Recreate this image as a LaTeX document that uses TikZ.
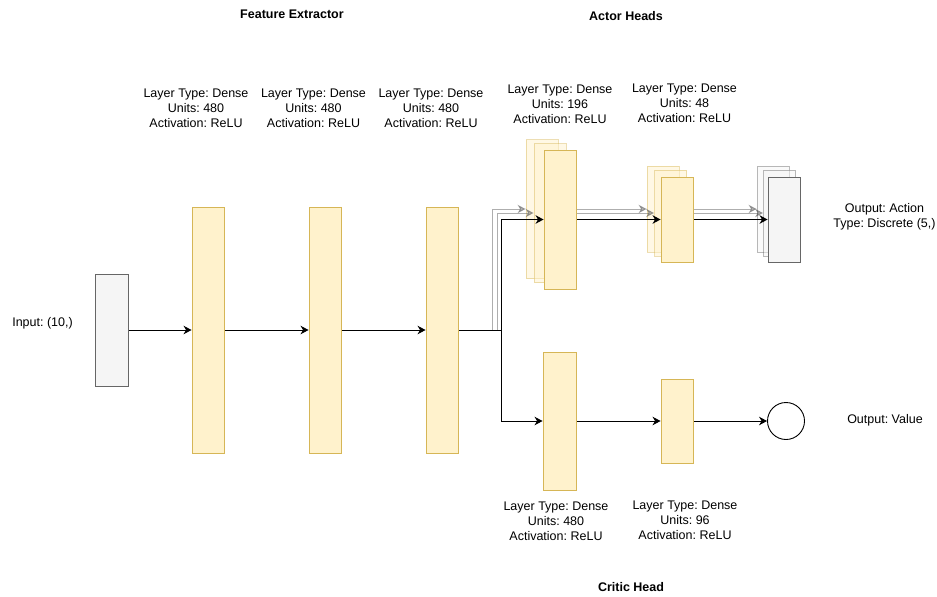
\documentclass[tikz,border=0pt]{standalone}
\usepackage{fontspec}
\setmainfont{Liberation Sans}
\usetikzlibrary{arrows.meta}
\frenchspacing
\pgfdeclarelayer{stack}
\pgfdeclarelayer{wires}
\pgfsetlayers{stack,wires,main}
\definecolor{layerfill}{HTML}{FFF2CC}
\definecolor{layerline}{HTML}{D6B656}
\definecolor{iofill}{HTML}{F5F5F5}
\definecolor{ioline}{HTML}{666666}
\tikzset{
  lyr/.style={draw=layerline, fill=layerfill, line width=0.9pt, inner sep=0pt,
    minimum width=32pt},
  lyrback/.style={lyr, draw opacity=0.45, fill opacity=0.5},
  iobox/.style={draw=ioline, fill=iofill, line width=0.9pt, inner sep=0pt,
    minimum width=32pt},
  ioback/.style={iobox, draw opacity=0.45, fill opacity=0.5},
  tip/.style={-{Stealth[length=8pt,width=8.5pt,inset=2.5pt]}},
  wire/.style={line width=0.9pt, draw=black},
  ghost/.style={line width=0.9pt, draw=black!70, draw opacity=0.45, fill opacity=0.45},
  lbl/.style={align=center, inner sep=0pt, font=\fontsize{12.5}{15}\selectfont},
  ttl/.style={inner sep=0pt, font=\fontsize{12.5}{15}\selectfont\bfseries},
}
\begin{document}
\begin{tikzpicture}[x=1pt,y=-1pt]
\useasboundingbox (0,0) rectangle (937,597);

% rear copies of the stacked actor layers and action output
\begin{pgfonlayer}{stack}
  \node[lyrback, minimum height=139pt] (a1b) at (542,209) {};
  \node[lyrback, minimum height=139pt] (a1m) at (550,213) {};
  \node[lyrback, minimum height=86pt] (a2b) at (663,209) {};
  \node[lyrback, minimum height=86pt] (a2m) at (670.5,213) {};
  \node[ioback, minimum height=86pt] (ob) at (773,209) {};
  \node[ioback, minimum height=86pt] (om) at (779.5,213) {};
\end{pgfonlayer}

% shared feature extractor
\node[iobox, minimum width=33pt, minimum height=112pt] (in) at (111.5,330) {};
\node[lyr, minimum height=246pt] (fe1) at (208,330) {};
\node[lyr, minimum height=246pt] (fe2) at (325,330) {};
\node[lyr, minimum height=246pt] (fe3) at (442,330) {};

% actor heads (front copies)
\node[lyr, minimum height=139pt] (a1f) at (560,219.5) {};
\node[lyr, minimum height=85pt] (a2f) at (677,219.5) {};
\node[iobox, minimum height=85pt] (of) at (784,219.5) {};

% critic head
\node[lyr, minimum width=33pt, minimum height=138pt] (c1) at (559.5,421) {};
\node[lyr, minimum height=84pt] (c2) at (677,421) {};
\node[draw=black, fill=white, line width=0.9pt, circle, minimum size=37pt, inner sep=0pt] (val) at (786,421) {};

% connectors
\coordinate (br) at (501,330);
\coordinate (gb) at (492,330);
\coordinate (gm) at (497,330);
\begin{pgfonlayer}{wires}
  \draw[wire, tip] (in.east) -- (fe1.west);
  \draw[wire, tip] (fe1.east) -- (fe2.west);
  \draw[wire, tip] (fe2.east) -- (fe3.west);
  \draw[ghost, tip] (gb) |- (a1b.west);
  \draw[ghost, tip] (gm) |- (a1m.west);
  \draw[wire] (fe3.east) -- (br);
  \draw[wire, tip] (br) |- (a1f.west);
  \draw[wire, tip] (br) |- (c1.west);
  \draw[ghost, tip] (a1b.east) -- (a2b.west);
  \draw[ghost, tip] (a1m.east) -- (a2m.west);
  \draw[wire, tip] (a1f.east) -- (a2f.west);
  \draw[ghost, tip] (a2b.east) -- (ob.west);
  \draw[ghost, tip] (a2m.east) -- (om.west);
  \draw[wire, tip] (a2f.east) -- (of.west);
  \draw[wire, tip] (c1.east) -- (c2.west);
  \draw[wire, tip] (c2.east) -- (val.west);
\end{pgfonlayer}

% labels
\node[ttl] (tfe) at (292,14) {Feature Extractor};
\node[ttl] (tah) at (626,16) {Actor Heads};
\node[ttl] (tch) at (631,587) {Critic Head};
\node[lbl] (lin) at (42.5,323) {Input: (10,)};
\node[lbl] (lfe1) at (196,108) {Layer Type: Dense\\Units: 480\\Activation: ReLU};
\node[lbl] (lfe2) at (313.5,108) {Layer Type: Dense\\Units: 480\\Activation: ReLU};
\node[lbl] (lfe3) at (431,108) {Layer Type: Dense\\Units: 480\\Activation: ReLU};
\node[lbl] (la1) at (560,104) {Layer Type: Dense\\Units: 196\\Activation: ReLU};
\node[lbl] (la2) at (684.5,103) {Layer Type: Dense\\Units: 48\\Activation: ReLU};
\node[lbl] (lc1) at (556,521) {Layer Type: Dense\\Units: 480\\Activation: ReLU};
\node[lbl] (lc2) at (685,520) {Layer Type: Dense\\Units: 96\\Activation: ReLU};
\node[lbl] (lout) at (884.5,217) {Output: Action\\Type: Discrete (5,)};
\node[lbl] (lval) at (885,420) {Output: Value};
\end{tikzpicture}
\end{document}
